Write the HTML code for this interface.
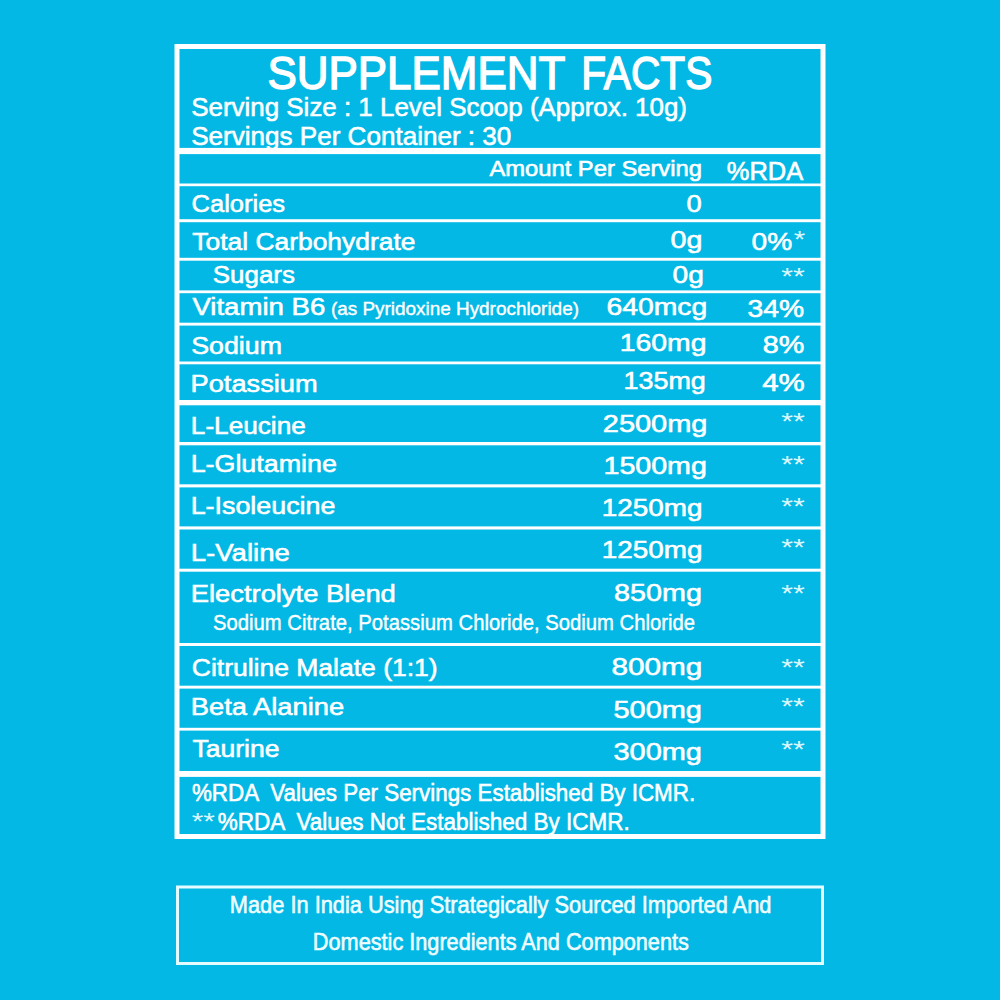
<!DOCTYPE html>
<html lang="en"><head><meta charset="utf-8">
<title>Supplement Facts</title>
<style>
html,body{margin:0;padding:0}
body{width:1000px;height:1000px;overflow:hidden;background:#03B8E5;position:relative;
 font-family:"Liberation Sans",sans-serif;color:#ffffff}
.geo{position:absolute;left:0;top:0}
.t{position:absolute;left:0;top:0;white-space:pre;line-height:1;transform-origin:0 0;display:block}
</style></head><body>
<svg class="geo" width="1000" height="1000" viewBox="0 0 1000 1000">
<rect x="177.0" y="46.5" width="646.0" height="790" fill="none" stroke="#ffffff" stroke-width="5"/>
<rect x="177.5" y="887.0" width="645" height="76.5" fill="none" stroke="#e4fcff" stroke-width="3"/>
<rect x="175.5" y="147.9" width="649.0" height="6.2" fill="#ffffff"/>
<rect x="175.5" y="183.5" width="649.0" height="2.7" fill="#ffffff"/>
<rect x="175.5" y="219.2" width="649.0" height="3.0" fill="#ffffff"/>
<rect x="175.5" y="257.8" width="649.0" height="2.9" fill="#ffffff"/>
<rect x="175.5" y="290.4" width="649.0" height="2.8" fill="#ffffff"/>
<rect x="175.5" y="322.7" width="649.0" height="2.9" fill="#ffffff"/>
<rect x="175.5" y="361.5" width="649.0" height="2.8" fill="#ffffff"/>
<rect x="175.5" y="400" width="649.0" height="5.3" fill="#ffffff"/>
<rect x="175.5" y="442" width="649.0" height="3.3" fill="#ffffff"/>
<rect x="175.5" y="484.3" width="649.0" height="3.1" fill="#ffffff"/>
<rect x="175.5" y="526.4" width="649.0" height="3.1" fill="#ffffff"/>
<rect x="175.5" y="568.7" width="649.0" height="3.0" fill="#ffffff"/>
<rect x="175.5" y="643" width="649.0" height="3" fill="#ffffff"/>
<rect x="175.5" y="685.7" width="649.0" height="2.9" fill="#ffffff"/>
<rect x="175.5" y="727.8" width="649.0" height="2.8" fill="#ffffff"/>
<rect x="175.5" y="771" width="649.0" height="5.9" fill="#ffffff"/>
</svg>
<span class="t" id="t0" style="font-size:45.79px;transform:translate(267.48px,51.00px) scaleX(0.9595);-webkit-text-stroke:1.4px #ffffff">SUPPLEMENT</span>
<span class="t" id="t1" style="font-size:45.79px;transform:translate(581.17px,51.00px) scaleX(0.8890);-webkit-text-stroke:1.4px #ffffff">FACTS</span>
<span class="t" id="t2" style="font-size:26.02px;transform:translate(191.23px,94.00px) scaleX(0.9965);-webkit-text-stroke:0.6px #ffffff">Serving Size : 1 Level Scoop (Approx. 10g)</span>
<span class="t" id="t3" style="font-size:25.73px;transform:translate(191.21px,124.00px) scaleX(1.0131);-webkit-text-stroke:0.6px #ffffff">Servings Per Container : 30</span>
<span class="t" id="t4" style="font-size:21.22px;transform:translate(489.48px,158.00px) scaleX(1.1186);-webkit-text-stroke:0.6px #ffffff">Amount Per Serving</span>
<span class="t" id="t5" style="font-size:25.15px;transform:translate(726.75px,159.00px) scaleX(1.0130);-webkit-text-stroke:0.6px #ffffff">%RDA</span>
<span class="t" id="t6" style="font-size:24.64px;transform:translate(191.59px,192.00px) scaleX(1.0352);-webkit-text-stroke:0.6px #ffffff">Calories</span>
<span class="t" id="t7" style="font-size:24.64px;transform:translate(192.35px,230.00px) scaleX(1.0722);-webkit-text-stroke:0.6px #ffffff">Total Carbohydrate</span>
<span class="t" id="t8" style="font-size:24.64px;transform:translate(212.80px,263.00px) scaleX(1.0517);-webkit-text-stroke:0.6px #ffffff">Sugars</span>
<span class="t" id="t9" style="font-size:24.64px;transform:translate(192.42px,295.00px) scaleX(1.1197);-webkit-text-stroke:0.6px #ffffff">Vitamin B6</span>
<span class="t" id="t10" style="font-size:18.46px;transform:translate(330.92px,300.00px) scaleX(1.0256);-webkit-text-stroke:0.4px #ffffff">(as Pyridoxine Hydrochloride)</span>
<span class="t" id="t11" style="font-size:24.64px;transform:translate(191.28px,334.00px) scaleX(1.0861);-webkit-text-stroke:0.6px #ffffff">Sodium</span>
<span class="t" id="t12" style="font-size:24.64px;transform:translate(190.58px,372.00px) scaleX(1.1045);-webkit-text-stroke:0.6px #ffffff">Potassium</span>
<span class="t" id="t13" style="font-size:24.64px;transform:translate(190.84px,414.00px) scaleX(1.0625);-webkit-text-stroke:0.6px #ffffff">L-Leucine</span>
<span class="t" id="t14" style="font-size:24.64px;transform:translate(190.64px,452.00px) scaleX(1.0899);-webkit-text-stroke:0.6px #ffffff">L-Glutamine</span>
<span class="t" id="t15" style="font-size:24.64px;transform:translate(190.64px,494.00px) scaleX(1.0907);-webkit-text-stroke:0.6px #ffffff">L-Isoleucine</span>
<span class="t" id="t16" style="font-size:24.64px;transform:translate(190.73px,541.00px) scaleX(1.1206);-webkit-text-stroke:0.6px #ffffff">L-Valine</span>
<span class="t" id="t17" style="font-size:24.64px;transform:translate(190.84px,582.00px) scaleX(1.1091);-webkit-text-stroke:0.6px #ffffff">Electrolyte Blend</span>
<span class="t" id="t18" style="font-size:22.38px;transform:translate(213.04px,612.00px) scaleX(0.9055);-webkit-text-stroke:0.4px #ffffff">Sodium Citrate, Potassium Chloride, Sodium Chloride</span>
<span class="t" id="t19" style="font-size:24.64px;transform:translate(191.76px,656.00px) scaleX(1.0757);-webkit-text-stroke:0.6px #ffffff">Citruline Malate (1:1)</span>
<span class="t" id="t20" style="font-size:24.64px;transform:translate(190.84px,695.00px) scaleX(1.1083);-webkit-text-stroke:0.6px #ffffff">Beta Alanine</span>
<span class="t" id="t21" style="font-size:24.64px;transform:translate(192.40px,737.00px) scaleX(1.0785);-webkit-text-stroke:0.6px #ffffff">Taurine</span>
<span class="t" id="t22" style="font-size:24.64px;transform:translate(686.61px,192.00px) scaleX(1.1093);-webkit-text-stroke:0.6px #ffffff">0</span>
<span class="t" id="t23" style="font-size:24.64px;transform:translate(670.57px,228.00px) scaleX(1.1628);-webkit-text-stroke:0.6px #ffffff">0g</span>
<span class="t" id="t24" style="font-size:24.64px;transform:translate(672.59px,263.00px) scaleX(1.1422);-webkit-text-stroke:0.6px #ffffff">0g</span>
<span class="t" id="t25" style="font-size:24.64px;transform:translate(606.38px,295.00px) scaleX(1.1502);-webkit-text-stroke:0.6px #ffffff">640mcg</span>
<span class="t" id="t26" style="font-size:24.64px;transform:translate(619.72px,331.00px) scaleX(1.1517);-webkit-text-stroke:0.6px #ffffff">160mg</span>
<span class="t" id="t27" style="font-size:24.64px;transform:translate(623.58px,369.00px) scaleX(1.0909);-webkit-text-stroke:0.6px #ffffff">135mg</span>
<span class="t" id="t28" style="font-size:24.64px;transform:translate(602.82px,412.00px) scaleX(1.1757);-webkit-text-stroke:0.6px #ffffff">2500mg</span>
<span class="t" id="t29" style="font-size:24.64px;transform:translate(603.50px,454.00px) scaleX(1.1607);-webkit-text-stroke:0.6px #ffffff">1500mg</span>
<span class="t" id="t30" style="font-size:24.64px;transform:translate(601.77px,496.00px) scaleX(1.1308);-webkit-text-stroke:0.6px #ffffff">1250mg</span>
<span class="t" id="t31" style="font-size:24.64px;transform:translate(601.77px,538.00px) scaleX(1.1308);-webkit-text-stroke:0.6px #ffffff">1250mg</span>
<span class="t" id="t32" style="font-size:24.64px;transform:translate(614.11px,581.00px) scaleX(1.1656);-webkit-text-stroke:0.6px #ffffff">850mg</span>
<span class="t" id="t33" style="font-size:24.64px;transform:translate(611.39px,655.00px) scaleX(1.2058);-webkit-text-stroke:0.6px #ffffff">800mg</span>
<span class="t" id="t34" style="font-size:24.64px;transform:translate(613.46px,698.00px) scaleX(1.1744);-webkit-text-stroke:0.6px #ffffff">500mg</span>
<span class="t" id="t35" style="font-size:24.64px;transform:translate(613.52px,740.00px) scaleX(1.1740);-webkit-text-stroke:0.6px #ffffff">300mg</span>
<span class="t" id="t36" style="font-size:24.64px;transform:translate(751.59px,230.00px) scaleX(1.1411);-webkit-text-stroke:0.6px #ffffff">0%</span>
<span class="t" id="t37" style="font-size:23.55px;transform:translate(793.65px,229.00px) scaleX(1.2510);color:#dff8ff">*</span>
<span class="t" id="t38" style="font-size:24.64px;transform:translate(747.59px,297.00px) scaleX(1.1473);-webkit-text-stroke:0.6px #ffffff">34%</span>
<span class="t" id="t39" style="font-size:24.64px;transform:translate(762.85px,333.00px) scaleX(1.1651);-webkit-text-stroke:0.6px #ffffff">8%</span>
<span class="t" id="t40" style="font-size:24.64px;transform:translate(762.19px,371.00px) scaleX(1.1938);-webkit-text-stroke:0.6px #ffffff">4%</span>
<span class="t" id="t41" style="font-size:23.98px;transform:translate(191.92px,781.00px) scaleX(0.9335);-webkit-text-stroke:0.6px #ffffff">%RDA  Values Per Servings Established By ICMR.</span>
<span class="t" id="t42" style="font-size:23.55px;transform:translate(191.68px,811.00px) scaleX(1.2599);color:#dff8ff">**</span>
<span class="t" id="t43" style="font-size:23.98px;transform:translate(217.67px,810.00px) scaleX(0.9386);-webkit-text-stroke:0.6px #ffffff">%RDA  Values Not Established By ICMR.</span>
<span class="t" id="t44" style="font-size:23.84px;transform:translate(229.84px,893.00px) scaleX(0.9147);-webkit-text-stroke:0.6px #f0fdff;color:#f0fdff">Made In India Using Strategically Sourced Imported And</span>
<span class="t" id="t45" style="font-size:23.84px;transform:translate(312.87px,930.00px) scaleX(0.9098);-webkit-text-stroke:0.6px #f0fdff;color:#f0fdff">Domestic Ingredients And Components</span>
<span class="t" id="t46" style="font-size:23.55px;transform:translate(781.35px,266.00px) scaleX(1.2846);color:#dff8ff">**</span>
<span class="t" id="t47" style="font-size:23.55px;transform:translate(781.35px,411.00px) scaleX(1.2846);color:#dff8ff">**</span>
<span class="t" id="t48" style="font-size:23.55px;transform:translate(781.35px,454.00px) scaleX(1.2846);color:#dff8ff">**</span>
<span class="t" id="t49" style="font-size:23.55px;transform:translate(781.35px,496.00px) scaleX(1.2846);color:#dff8ff">**</span>
<span class="t" id="t50" style="font-size:23.55px;transform:translate(781.35px,537.00px) scaleX(1.2846);color:#dff8ff">**</span>
<span class="t" id="t51" style="font-size:23.55px;transform:translate(781.35px,583.00px) scaleX(1.2846);color:#dff8ff">**</span>
<span class="t" id="t52" style="font-size:23.55px;transform:translate(781.35px,657.00px) scaleX(1.2846);color:#dff8ff">**</span>
<span class="t" id="t53" style="font-size:23.55px;transform:translate(781.35px,696.00px) scaleX(1.2846);color:#dff8ff">**</span>
<span class="t" id="t54" style="font-size:23.55px;transform:translate(781.35px,739.00px) scaleX(1.2846);color:#dff8ff">**</span>
</body></html>
